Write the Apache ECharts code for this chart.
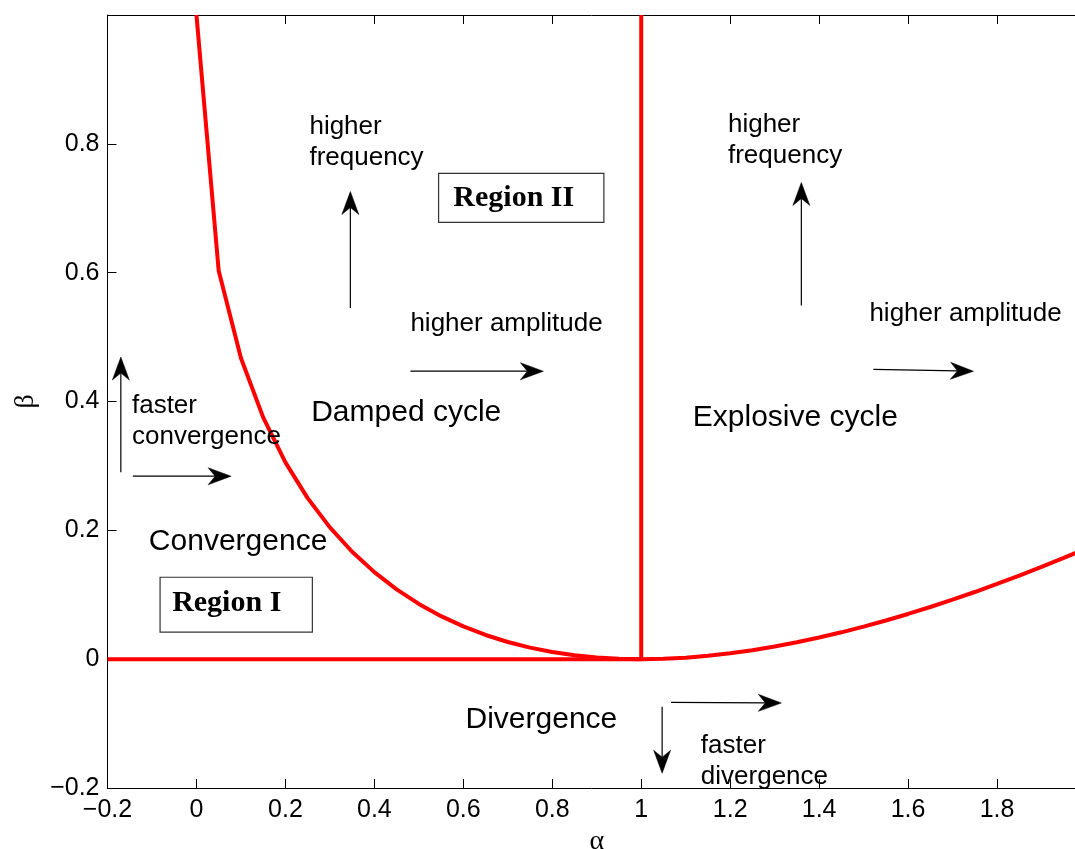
<!DOCTYPE html>
<html>
<head>
<meta charset="utf-8">
<script src="https://cdn.jsdelivr.net/npm/echarts@6/dist/echarts.min.js"></script>
<style>
  html, body { margin: 0; padding: 0; background: #ffffff; }
  #chart { width: 1075px; height: 849px; }
</style>
</head>
<body>
<div id="chart"></div>
<script>
// Stability regions of the multiplier–accelerator model in the (α, β) plane.

// Boundary between real and complex roots, sampled every 0.05 in α.
const alphaSamples = [
  0.00, 0.05, 0.10, 0.15, 0.20, 0.25, 0.30, 0.35, 0.40, 0.45,
  0.50, 0.55, 0.60, 0.65, 0.70, 0.75, 0.80, 0.85, 0.90, 0.95,
  1.00, 1.05, 1.10, 1.15, 1.20, 1.25, 1.30, 1.35, 1.40, 1.45,
  1.50, 1.55, 1.60, 1.65, 1.70, 1.75, 1.80, 1.85, 1.90, 1.95, 2.00
];
const betaBoundary = [
  1.00000, 0.60279, 0.46754, 0.37540, 0.30557, 0.25000, 0.20455, 0.16678, 0.13509, 0.10836,
  0.08579, 0.06676, 0.05081, 0.03755, 0.02668, 0.01795, 0.01115, 0.00609, 0.00263, 0.00064,
  0.00000, 0.00061, 0.00238, 0.00524, 0.00911, 0.01393, 0.01965, 0.02621, 0.03357, 0.04168,
  0.05051, 0.06002, 0.07018, 0.08095, 0.09232, 0.10425, 0.11672, 0.12971, 0.14319, 0.15715, 0.17157
];

// Straight borders: β = 0 for α up to 1, and α = 1 for β from 0 up.
const zeroBetaBorder = [[-0.2, 0], [1, 0]];
const unitAlphaBorder = [[1, 0], [1, 1]];

// Axis ranges and tick labels.
const alphaRange = [-0.2, 2.0];
const betaRange = [-0.2, 1.0];
const alphaTickLabels = ['\u22120.2', '0', '0.2', '0.4', '0.6', '0.8', '1', '1.2', '1.4', '1.6', '1.8', '2'];
const betaTickLabels = ['\u22120.2', '0', '0.2', '0.4', '0.6', '0.8', '1'];

// Arrows, in (α, β): [from, to].
const arrowSegments = [
  [[0.346, 0.545], [0.346, 0.726]],
  [[1.360, 0.549], [1.360, 0.740]],
  [[0.481, 0.447], [0.780, 0.447]],
  [[1.522, 0.450], [1.747, 0.447]],
  [[-0.170, 0.290], [-0.170, 0.469]],
  [[-0.143, 0.284], [0.078, 0.284]],
  [[1.047, -0.074], [1.047, -0.177]],
  [[1.067, -0.067], [1.315, -0.068]]
];

// Annotation texts: label, left anchor (α, β), font size.
const noteTexts = ['higher\nfrequency', 'higher\nfrequency', 'higher amplitude', 'higher amplitude',
  'Damped cycle', 'Explosive cycle', 'faster\nconvergence', 'Convergence', 'Divergence', 'faster\ndivergence'];
const noteAnchors = [[0.254, 0.802], [1.195, 0.805], [0.481, 0.521], [1.513, 0.536],
  [0.258, 0.383], [1.116, 0.375], [-0.145, 0.369], [-0.107, 0.183], [0.605, -0.094], [1.134, -0.159]];
const noteSizes = [26, 26, 26, 26, 30, 30, 26, 30, 30, 26];

// Framed region labels: label, text anchor, box corners (α, β).
const regionNames = ['Region II', 'Region I'];
const regionTextAnchors = [[0.5775, 0.7150], [-0.0547, 0.0870]];
const regionBoxes = [
  [[0.5444, 0.7542], [0.9160, 0.6781]],
  [[-0.0818, 0.1272], [0.2606, 0.0419]]
];

const chart = echarts.init(document.getElementById('chart'), null, { renderer: 'canvas' });

const sansFont = '"Liberation Sans", Arial, Helvetica, sans-serif';
const serifFont = '"Liberation Serif", "Times New Roman", serif';
const red = '#ff0000';

function tickLabel(labels, start) {
  return function (v) {
    const i = Math.round((v - start) / 0.2);
    return labels[i] !== undefined ? labels[i] : '';
  };
}

const boundaryData = alphaSamples.map((a, i) => [a, betaBoundary[i]]);

const axisCommon = {
  type: 'value',
  interval: 0.2,
  axisLine: { show: true, onZero: false, lineStyle: { color: '#000', width: 1 } },
  axisTick: { show: true, inside: true, length: 9, lineStyle: { color: '#000', width: 1 } },
  splitLine: { show: false }
};

chart.setOption({
  animation: false,
  backgroundColor: '#ffffff',
  grid: { left: 107.5, top: 15, width: 978.5, height: 773, containLabel: false, outerBoundsMode: 'none' },
  xAxis: [
    Object.assign({}, axisCommon, {
      position: 'bottom', min: alphaRange[0], max: alphaRange[1],
      name: 'α', nameLocation: 'middle', nameGap: 31,
      nameTextStyle: { fontFamily: serifFont, fontSize: 28, color: '#000' },
      axisLabel: { show: true, margin: 10, color: '#000', fontFamily: sansFont, fontSize: 25,
        formatter: tickLabel(alphaTickLabels, alphaRange[0]) }
    }),
    Object.assign({}, axisCommon, {
      position: 'top', min: alphaRange[0], max: alphaRange[1],
      axisLabel: { show: false }
    })
  ],
  yAxis: [
    Object.assign({}, axisCommon, {
      position: 'left', min: betaRange[0], max: betaRange[1],
      name: 'β', nameLocation: 'middle', nameGap: 64,
      nameTextStyle: { fontFamily: serifFont, fontSize: 28, color: '#000' },
      axisLabel: { show: true, margin: 8, color: '#000', fontFamily: sansFont, fontSize: 25,
        showMaxLabel: false,
        formatter: tickLabel(betaTickLabels, betaRange[0]) }
    }),
    Object.assign({}, axisCommon, {
      position: 'right', min: betaRange[0], max: betaRange[1],
      axisLabel: { show: false }
    })
  ],
  series: [
    {
      type: 'line', data: boundaryData, showSymbol: false, clip: true,
      lineStyle: { color: red, width: 4 }
    },
    {
      type: 'line', data: zeroBetaBorder, showSymbol: false, clip: true,
      lineStyle: { color: red, width: 4 }
    },
    {
      type: 'line', data: unitAlphaBorder, showSymbol: false, clip: true,
      lineStyle: { color: red, width: 4 }
    }
  ]
});

function toPx(p) {
  return chart.convertToPixel({ gridIndex: 0 }, p);
}

const graphics = [];

// Arrows with a swept-back head.
arrowSegments.forEach(function (seg) {
  const a = toPx(seg[0]);
  const b = toPx(seg[1]);
  const dx = b[0] - a[0], dy = b[1] - a[1];
  const len = Math.sqrt(dx * dx + dy * dy);
  const ux = dx / len, uy = dy / len;
  const nx = -uy, ny = ux;
  const headLen = 23, halfW = 8.5, notch = 7;
  const back = [b[0] - ux * headLen, b[1] - uy * headLen];
  const mid = [b[0] - ux * (headLen - notch), b[1] - uy * (headLen - notch)];
  graphics.push({
    type: 'line', z: 10,
    shape: { x1: a[0], y1: a[1], x2: mid[0], y2: mid[1] },
    style: { stroke: '#000', lineWidth: 1.2 }
  });
  graphics.push({
    type: 'polygon', z: 10,
    shape: { points: [b, [back[0] + nx * halfW, back[1] + ny * halfW], mid, [back[0] - nx * halfW, back[1] - ny * halfW]] },
    style: { fill: '#000', stroke: '#000', lineWidth: 0.5 }
  });
});

// Plain annotation texts.
noteTexts.forEach(function (t, i) {
  const p = toPx(noteAnchors[i]);
  graphics.push({
    type: 'text', z: 10, x: p[0], y: p[1],
    style: {
      text: t, fill: '#000', fontFamily: sansFont, fontSize: noteSizes[i],
      lineHeight: 31, align: 'left', verticalAlign: 'middle'
    }
  });
});

// Framed region labels.
regionNames.forEach(function (name, i) {
  const c0 = toPx(regionBoxes[i][0]);
  const c1 = toPx(regionBoxes[i][1]);
  graphics.push({
    type: 'rect', z: 10,
    shape: { x: c0[0], y: c0[1], width: c1[0] - c0[0], height: c1[1] - c0[1] },
    style: { fill: '#ffffff', stroke: '#333', lineWidth: 1.2 }
  });
  const p = toPx(regionTextAnchors[i]);
  graphics.push({
    type: 'text', z: 11, x: p[0], y: p[1],
    style: {
      text: name, fill: '#000', fontFamily: serifFont, fontWeight: 'bold', fontSize: 30,
      align: 'left', verticalAlign: 'middle'
    }
  });
});

chart.setOption({ graphic: graphics });
</script>
</body>
</html>
